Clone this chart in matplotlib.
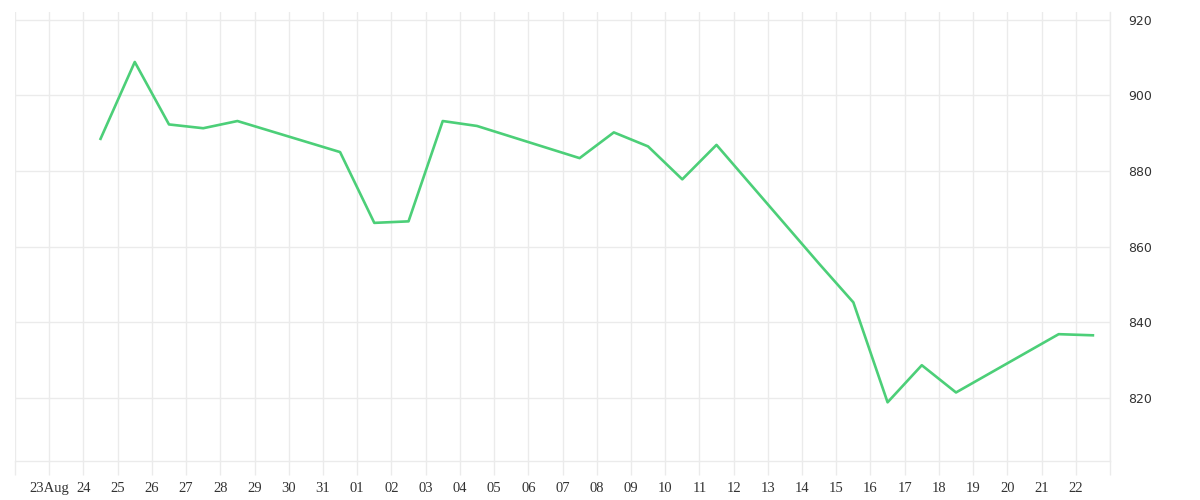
import datetime as dt
import matplotlib
matplotlib.use("Agg")
import matplotlib.pyplot as plt
import matplotlib.dates as mdates
from matplotlib.ticker import FuncFormatter

# --- Data (trading days) ---
dates = [
    "2025-08-25", "2025-08-26", "2025-08-27", "2025-08-28", "2025-08-29",
    "2025-09-01", "2025-09-02", "2025-09-03", "2025-09-04", "2025-09-05",
    "2025-09-08", "2025-09-09", "2025-09-10", "2025-09-11", "2025-09-12",
    "2025-09-15", "2025-09-16", "2025-09-17", "2025-09-18", "2025-09-19",
    "2025-09-22", "2025-09-23",
]
values = [
    888.5, 908.8, 892.3, 891.3, 893.2,
    885.0, 866.3, 866.7, 893.2, 891.9,
    883.4, 890.2, 886.5, 877.8, 886.9,
    855.5, 845.3, 818.9, 828.7, 821.5,
    836.9, 836.6,
]
y_ticks = [820, 840, 860, 880, 900, 920]

# points are drawn half a day earlier (timezone shift in the original)
x = [dt.datetime.strptime(d, "%Y-%m-%d") - dt.timedelta(hours=12) for d in dates]

grid_col = "#ebebeb"
text_col = "#333333"

fig = plt.figure(figsize=(12, 5), dpi=100)
ax = fig.add_axes([0.0125, 0.078, 0.9125, 0.898])

ax.plot(x, values, color="#4ccf78", linewidth=1.9)

ax.set_xlim(dt.datetime(2025, 8, 22), dt.datetime(2025, 9, 23))
ax.set_ylim(803.4, 922.0)

ax.xaxis.set_major_locator(mdates.DayLocator())


def day_label(v, pos):
    d = mdates.num2date(v)
    if (d.month, d.day) in [(8, 22), (9, 23)]:
        return ""
    if (d.month, d.day) == (8, 23):
        return "23Aug"
    return d.strftime("%d")


ax.xaxis.set_major_formatter(FuncFormatter(day_label))
ax.set_yticks(y_ticks)

ax.yaxis.tick_right()
ax.tick_params(axis="y", length=0, pad=13, labelsize=9, labelcolor=text_col)
ax.tick_params(axis="x", length=10, width=1, color=grid_col, pad=5,
               labelsize=10.5, labelcolor=text_col)
for lab in ax.get_xticklabels():
    lab.set_fontfamily("Liberation Serif")
for lab in ax.get_yticklabels():
    lab.set_fontfamily("DejaVu Sans")

ax.grid(True, color=grid_col, linewidth=1)
ax.set_axisbelow(True)

for side in ["top", "left"]:
    ax.spines[side].set_visible(False)
for side in ["bottom", "right"]:
    ax.spines[side].set_color(grid_col)
    ax.spines[side].set_linewidth(1)

fig.savefig("out.png", dpi=100, facecolor="white")
